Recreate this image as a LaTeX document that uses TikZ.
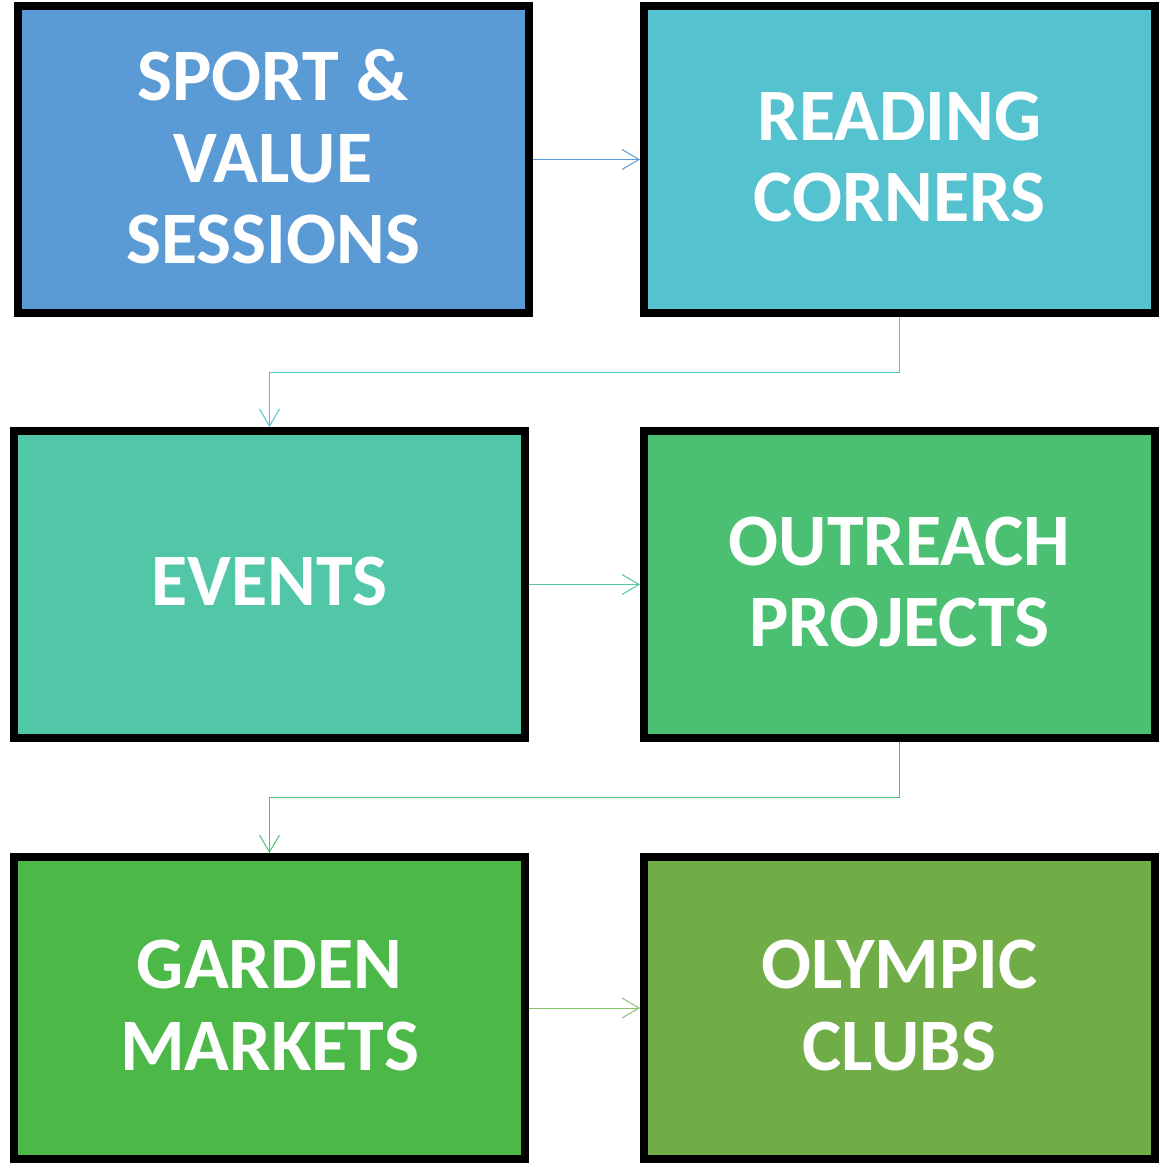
\documentclass[tikz,border=0pt]{standalone}
\usepackage{fontspec}
\setmainfont{Carlito}
\usetikzlibrary{arrows.meta}
\definecolor{boxblue}{HTML}{5B9BD5}
\definecolor{boxcyan}{HTML}{55C2CF}
\definecolor{boxteal}{HTML}{51C7A7}
\definecolor{boxmint}{HTML}{4BBF72}
\definecolor{boxgreen}{HTML}{4BB848}
\definecolor{boxolive}{HTML}{70AD47}
\definecolor{linkgreen}{HTML}{86C56A}
\begin{document}
\begin{tikzpicture}[x=1pt, y=-1pt,
    box/.style={rectangle, draw=black, line width=8pt, minimum width=511pt,
        minimum height=307pt, align=center, text=white, text depth=6pt,
        font=\fontsize{74}{81.5}\selectfont\bfseries},
    link/.style={line width=1pt, -{Straight Barb[length=17pt,width=20pt]}}]
    \useasboundingbox (0,0) rectangle (1161,1164);
    \node [box, fill=boxblue] (sport) at (273,159.5) {SPORT \&\\VALUE\\SESSIONS};
    \node [box, fill=boxcyan] (reading) at (899.5,159.5) {READING\\CORNERS};
    \node [box, fill=boxteal] (events) at (269.5,584.5) {EVENTS};
    \node [box, fill=boxmint] (outreach) at (899.5,584.5) {OUTREACH\\PROJECTS};
    \node [box, fill=boxgreen, minimum height=302pt] (garden) at (269.5,1008) {GARDEN\\MARKETS};
    \node [box, fill=boxolive, minimum height=302pt] (olympic) at (899.5,1008) {OLYMPIC\\CLUBS};
    \draw [link, boxblue] (sport) -- (reading);
    \draw [link, boxcyan] (reading.south) -- ++(0,55) -| (events.north);
    \draw [link, boxteal] (events) -- (outreach);
    \draw [link, boxmint] (outreach.south) -- ++(0,55) -| (garden.north);
    \draw [link, linkgreen] (garden) -- (olympic);
\end{tikzpicture}
\end{document}
